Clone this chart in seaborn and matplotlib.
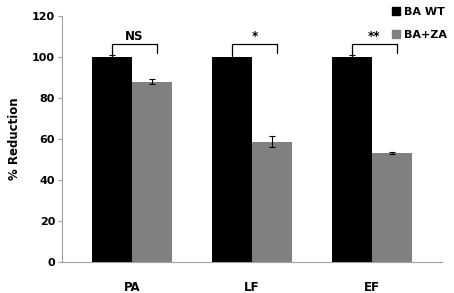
import matplotlib
matplotlib.use("Agg")
import matplotlib.pyplot as plt
import numpy as np
import pandas as pd
import seaborn as sns

groups = ["PA", "LF", "EF"]
series = ["BA WT", "BA+ZA"]
wt_values = [100.0, 100.0, 100.0]
za_values = [88.0, 58.8, 53.2]
wt_errors = [1.0, 0.0, 1.0]
za_errors = [1.2, 2.8, 0.3]
sig_labels = ["NS", "*", "**"]
yticks = [0, 20, 40, 60, 80, 100, 120]

colors = {"BA WT": "#000000", "BA+ZA": "#808080"}

df = pd.DataFrame({
    "group": groups * 2,
    "series": [series[0]] * 3 + [series[1]] * 3,
    "value": wt_values + za_values,
    "err": wt_errors + za_errors,
})

sns.set_style("white")
plt.rcParams["font.family"] = ["DejaVu Sans"]
plt.rcParams["font.weight"] = "bold"
plt.rcParams["text.color"] = "black"
plt.rcParams["axes.labelcolor"] = "black"
plt.rcParams["xtick.color"] = "black"
plt.rcParams["ytick.color"] = "black"

fig = plt.figure(figsize=(4.54, 2.93), dpi=100)
ax = fig.add_axes([0.1366, 0.1058, 0.8370, 0.8392])

sns.barplot(data=df, x="group", y="value", hue="series", order=groups,
            hue_order=series, palette=colors, width=0.667, gap=0,
            errorbar=None, ax=ax, legend=False, saturation=1, linewidth=0)

# error bars at bar centres
for patch, (_, row) in zip(ax.patches, df.iterrows()):
    cx = patch.get_x() + patch.get_width() / 2
    if row["err"] > 0:
        ax.errorbar(cx, row["value"], yerr=row["err"], fmt="none",
                    ecolor="black", elinewidth=0.8, capsize=2.5, capthick=0.8,
                    zorder=5)

# significance brackets
bars = ax.patches
for i, lab in enumerate(sig_labels):
    b1 = bars[i]
    b2 = bars[i + 3]
    x1 = b1.get_x() + b1.get_width() / 2
    x2 = b2.get_x() + b2.get_width() / 2 + 0.04
    top = 106.5
    ax.plot([x1, x1, x2, x2], [100.5, top, top, 102], color="black", lw=0.9,
            zorder=6)
    ax.text((x1 + x2) / 2, top + 0.5, lab, ha="center", va="bottom",
            fontsize=8.5, fontweight="bold")

ax.set_ylim(0, 120)
ax.set_xlim(-0.583, 2.583)
ax.set_yticks(yticks)
ax.set_yticklabels([str(t) for t in yticks], fontsize=8, fontweight="bold")
ax.set_xticks(range(len(groups)))
ax.set_xticklabels(groups, fontsize=8.5, fontweight="bold")
ax.tick_params(axis="x", length=0, pad=14)
ax.tick_params(axis="y", left=True, length=3, width=0.8, color="#a0a0a0",
               labelcolor="black", pad=2)
ax.set_xlabel("")
ax.set_ylabel("% Reduction", fontsize=8.5, fontweight="bold", labelpad=8)

for s in ["top", "right"]:
    ax.spines[s].set_visible(False)
for s in ["left", "bottom"]:
    ax.spines[s].set_color("#a0a0a0")
    ax.spines[s].set_linewidth(0.8)

handles = [plt.Rectangle((0, 0), 1, 1, color=colors[s]) for s in series]
fig.legend(handles, series, loc="upper right", bbox_to_anchor=(1.0, 1.0),
           frameon=False, handlelength=0.7, handleheight=0.7,
           handletextpad=0.4, labelspacing=1.2, borderaxespad=0.2,
           prop={"weight": "bold", "size": 8})

fig.savefig("out.png", dpi=100)
